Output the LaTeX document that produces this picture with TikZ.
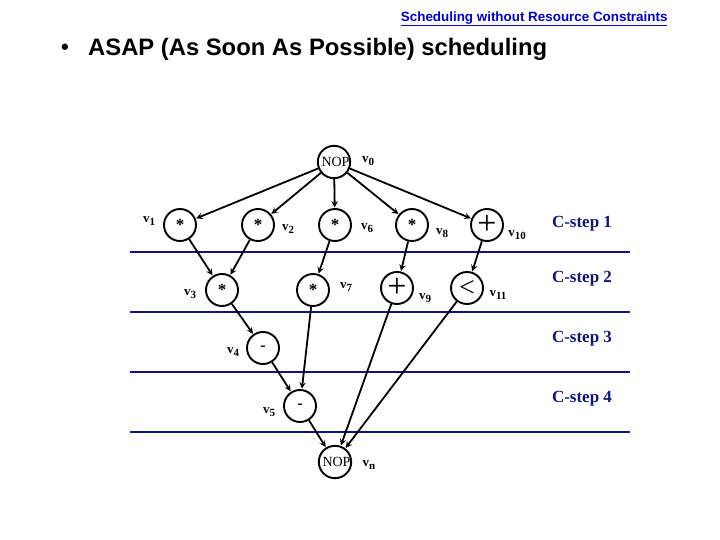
\documentclass[tikz,border=0pt]{standalone}
\usepackage{fontspec}
\setmainfont{Liberation Serif}
\setsansfont{Liberation Sans}
\usepackage{xcolor}
\usetikzlibrary{arrows,positioning}
\definecolor{stepblue}{RGB}{20,20,120}
\definecolor{headblue}{RGB}{0,0,205}
% node label v with subscript
\newcommand{\vname}[1]{v\raisebox{-3.5pt}{\fontsize{11}{11}\selectfont #1}}

\begin{document}
\begin{tikzpicture}[
    x=1pt, y=-1pt,
    op/.style={circle, draw, line width=1.9pt, minimum size=32pt, inner sep=0pt, font=\fontsize{14}{14}\selectfont},
    arrow/.style={->, >=stealth, line width=1.8pt, shorten >=0.5pt},
    vlab/.style={font=\fontsize{13}{13}\selectfont\bfseries, inner sep=0pt},
    cstep/.style={font=\fontsize{17}{17}\selectfont\bfseries, text=stepblue},
    sepline/.style={stepblue, line width=1.8pt},
    star/.style={font=\fontsize{17}{17}\selectfont\bfseries},
    bigop/.style={font=\fontsize{34}{34}\selectfont}
]
    \useasboundingbox (0,0) rectangle (720,540);

    % Header and title
    \node[font=\sffamily\bfseries\fontsize{13.4}{13.4}\selectfont, text=headblue, anchor=east] (head) at (671,19) {\underline{Scheduling without Resource Constraints}};
    \node[font=\sffamily\bfseries\fontsize{22}{22}\selectfont] (bullet) at (65,49) {\textbullet};
    \node[font=\sffamily\bfseries\fontsize{23.8}{23.8}\selectfont, anchor=west, inner sep=0pt] (title) at (88,49) {ASAP (As Soon As Possible) scheduling};

    % C-step separators
    \coordinate (l1a) at (130,252); \coordinate (l1b) at (630,252);
    \coordinate (l2a) at (130,312); \coordinate (l2b) at (630,312);
    \coordinate (l3a) at (130,372); \coordinate (l3b) at (630,372);
    \coordinate (l4a) at (130,432); \coordinate (l4b) at (630,432);
    \draw[sepline] (l1a) -- (l1b);
    \draw[sepline] (l2a) -- (l2b);
    \draw[sepline] (l3a) -- (l3b);
    \draw[sepline] (l4a) -- (l4b);

    \node[cstep] (cs1) at (582,224) {C-step 1};
    \node[cstep] (cs2) at (582,279) {C-step 2};
    \node[cstep] (cs3) at (582,339) {C-step 3};
    \node[cstep] (cs4) at (582,399) {C-step 4};

    % Operation nodes
    \node[op] (v0) at (334,162) {\hspace*{3pt}NOP};
    \node[op, star] (v1) at (180,225) {\raisebox{-4pt}{*}};
    \node[op, star] (v2) at (258,225) {\raisebox{-4pt}{*}};
    \node[op, star] (v6) at (335,225) {\raisebox{-4pt}{*}};
    \node[op, star] (v8) at (412,225) {\raisebox{-4pt}{*}};
    \node[op, bigop] (v10) at (487,225) {\raisebox{-2pt}{+}};
    \node[op, star] (v3) at (222,290) {\raisebox{-4pt}{*}};
    \node[op, star] (v7) at (313,290) {\raisebox{-4pt}{*}};
    \node[op, bigop] (v9) at (397,288) {\raisebox{-2pt}{+}};
    \node[op, font=\fontsize{28}{28}\selectfont] (v11) at (467,288) {<};
    \node[op, font=\fontsize{16}{16}\selectfont\bfseries] (v4) at (263,348) {\raisebox{-4pt}{-}};
    \node[op, font=\fontsize{16}{16}\selectfont\bfseries] (v5) at (300,406) {\raisebox{-4pt}{-}};
    \node[op] (vn) at (335,462) {\hspace*{3pt}NOP};

    % Node labels
    \node[vlab] (lv0) at (368,161) {\vname{0}};
    \node[vlab] (lv1) at (149,221) {\vname{1}};
    \node[vlab] (lv2) at (288,229) {\vname{2}};
    \node[vlab] (lv6) at (367,228) {\vname{6}};
    \node[vlab] (lv8) at (442,233) {\vname{8}};
    \node[vlab] (lv10) at (517,235) {\vname{10}};
    \node[vlab] (lv3) at (190,294) {\vname{3}};
    \node[vlab] (lv7) at (346,287) {\vname{7}};
    \node[vlab] (lv9) at (425,298) {\vname{9}};
    \node[vlab] (lv11) at (498,295) {\vname{11}};
    \node[vlab] (lv4) at (233,352) {\vname{4}};
    \node[vlab] (lv5) at (269,412) {\vname{5}};
    \node[vlab] (lvn) at (369,465) {\vname{n}};

    % Dependencies
    \draw[arrow] (v0) -- (v1);
    \draw[arrow] (v0) -- (v2);
    \draw[arrow] (v0) -- (v6);
    \draw[arrow] (v0) -- (v8);
    \draw[arrow] (v0) -- (v10);
    \draw[arrow] (v1) -- (v3);
    \draw[arrow] (v2) -- (v3);
    \draw[arrow] (v6) -- (v7);
    \draw[arrow] (v8) -- (v9);
    \draw[arrow] (v10) -- (v11);
    \draw[arrow] (v3) -- (v4);
    \draw[arrow] (v4) -- (v5);
    \draw[arrow] (v7) -- (v5);
    \draw[arrow] (v5) -- (vn);
    \draw[arrow] (v9) -- (vn);
    \draw[arrow] (v11) -- (vn);
\end{tikzpicture}
\end{document}
